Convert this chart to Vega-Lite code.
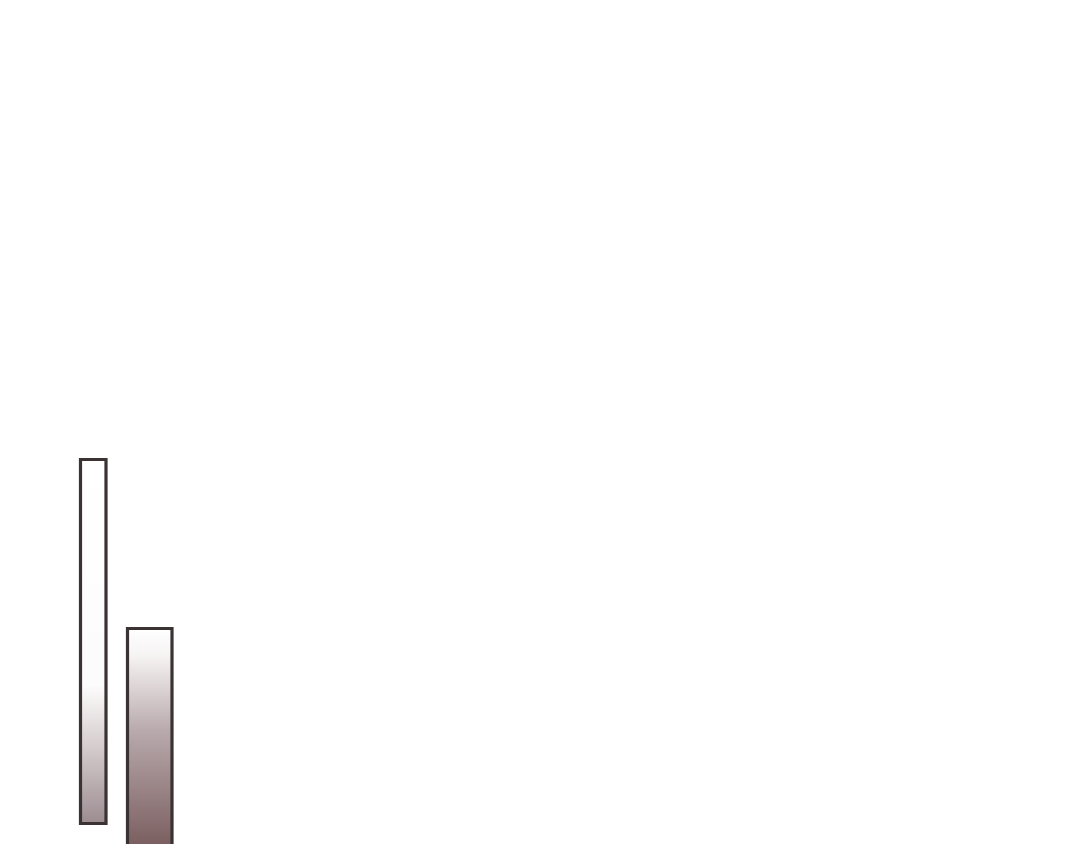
{
  "$schema": "https://vega.github.io/schema/vega-lite/v6.json",
  "width": 1080,
  "height": 844,
  "autosize": {"type": "fit", "contains": "padding"},
  "padding": 0,
  "background": "white",
  "config": {"view": {"stroke": null}},
  "data": {
    "values": [
      {"bar": "A", "x0": 80.5, "x1": 106, "y0": 20.5, "y1": 384.5},
      {"bar": "B", "x0": 127.5, "x1": 172, "y0": -10, "y1": 215.5}
    ]
  },
  "encoding": {
    "x": {"field": "x0", "type": "quantitative", "scale": {"domain": [0, 1080], "nice": false, "zero": false}, "axis": null},
    "x2": {"field": "x1"},
    "y": {"field": "y0", "type": "quantitative", "scale": {"domain": [0, 844], "nice": false, "zero": false}, "axis": null},
    "y2": {"field": "y1"}
  },
  "layer": [
    {
      "transform": [{"filter": "datum.bar === 'A'"}],
      "mark": {
        "type": "rect",
        "clip": true,
        "stroke": "#3a3233",
        "strokeWidth": 3.2,
        "fill": {
          "gradient": "linear",
          "x1": 0, "y1": 0, "x2": 0, "y2": 1,
          "stops": [
            {"offset": 0, "color": "#ffffff"},
            {"offset": 0.62, "color": "#fdfcfc"},
            {"offset": 0.8, "color": "#d2c9cb"},
            {"offset": 1, "color": "#9c8c91"}
          ]
        }
      }
    },
    {
      "transform": [{"filter": "datum.bar === 'B'"}],
      "mark": {
        "type": "rect",
        "clip": true,
        "stroke": "#3a3233",
        "strokeWidth": 3.2,
        "fill": {
          "gradient": "linear",
          "x1": 0, "y1": 0, "x2": 0, "y2": 1,
          "stops": [
            {"offset": 0, "color": "#ffffff"},
            {"offset": 0.12, "color": "#f6f3f3"},
            {"offset": 0.45, "color": "#b9aaad"},
            {"offset": 1, "color": "#76595a"}
          ]
        }
      }
    }
  ]
}
